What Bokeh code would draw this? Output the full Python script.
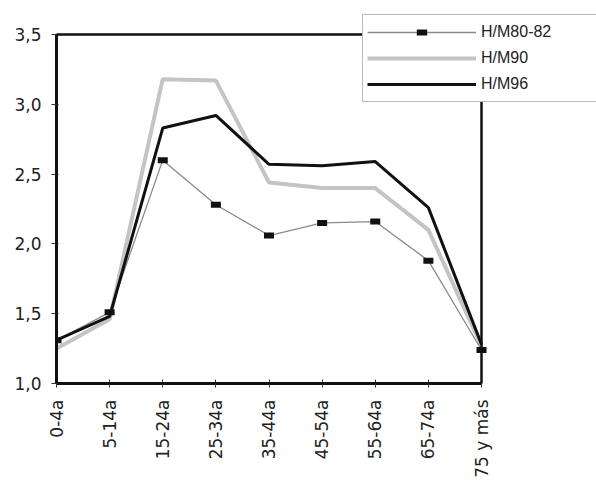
import math
from bokeh.plotting import figure
from bokeh.models import (Range1d, FixedTicker, CustomJSTickFormatter, Legend, LegendItem,
                          BoxAnnotation)
from bokeh.embed import file_html
from bokeh.resources import INLINE

categories = ["0-4a", "5-14a", "15-24a", "25-34a", "35-44a", "45-54a", "55-64a", "65-74a", "75 y más"]
hm80_82 = [1.31, 1.51, 2.60, 2.28, 2.06, 2.15, 2.16, 1.88, 1.24]
hm90 = [1.25, 1.46, 3.18, 3.17, 2.44, 2.40, 2.40, 2.10, 1.27]
hm96 = [1.31, 1.48, 2.83, 2.92, 2.57, 2.56, 2.59, 2.26, 1.28]
y_ticks = [1.0, 1.5, 2.0, 2.5, 3.0, 3.5]

xs = list(range(len(categories)))
x_last = len(categories) - 1
y_min, y_max = y_ticks[0], y_ticks[-1]

# The frame extends to the canvas' right and top edges so the legend may
# overlap beyond the drawn plot box (as in the reference).
W, H = 596, 486
left_b, bottom_b = 56, 103
axis_px_x = 425   # pixel length of the category axis
axis_px_y = 349   # pixel height of the value axis
frame_w = W - left_b
frame_h = H - bottom_b
x_end = x_last * frame_w / axis_px_x
y_end = y_min + (y_max - y_min) * frame_h / axis_px_y

p = figure(width=W, height=H, output_backend="svg", toolbar_location=None,
           x_range=Range1d(0, x_end), y_range=Range1d(y_min, y_end),
           min_border_left=left_b, min_border_right=0, min_border_top=0,
           min_border_bottom=bottom_b)
p.background_fill_color = "white"
p.border_fill_color = "white"
p.xgrid.visible = False
p.ygrid.visible = False
p.outline_line_color = None

# plot box (top and right borders; left/bottom are the axes)
p.add_layout(BoxAnnotation(left=0, right=x_last, bottom=y_min, top=y_max,
                           fill_alpha=0, line_color="#111111", line_alpha=1.0,
                           line_width=2.5))

r90 = p.line(xs, hm90, line_color="#c4c4c4", line_width=4)
r80 = p.line(xs, hm80_82, line_color="#8a8a8a", line_width=1.3)
r96 = p.line(xs, hm96, line_color="#111111", line_width=3)
r80m = p.scatter(xs, hm80_82, marker="dash", size=10, line_width=6, line_color="#111111",
                 line_cap="butt")

p.xaxis.ticker = FixedTicker(ticks=xs)
p.xaxis.formatter = CustomJSTickFormatter(args=dict(labels=categories),
                                          code="return labels[Math.round(tick)];")
p.xaxis.major_label_orientation = math.pi / 2
p.xaxis.bounds = (0, x_last)
p.yaxis.ticker = FixedTicker(ticks=y_ticks)
p.yaxis.formatter = CustomJSTickFormatter(code="return tick.toFixed(1).replace('.', ',');")
p.yaxis.bounds = (y_min, y_max)
p.xaxis.minor_tick_line_color = None
p.yaxis.minor_tick_line_color = None

for ax in (p.xaxis, p.yaxis):
    ax.axis_line_color = "#111111"
    ax.axis_line_width = 3
    ax.major_tick_line_color = "#333333"
    ax.major_tick_line_width = 1
    ax.major_label_text_font = "DejaVu Sans"
    ax.major_label_text_font_size = "17px"
    ax.major_label_text_color = "#222222"

p.xaxis.major_tick_in = 4
p.xaxis.major_tick_out = 4
p.xaxis.major_label_standoff = 12
p.yaxis.major_tick_in = 2
p.yaxis.major_tick_out = 5
p.yaxis.major_label_standoff = 10

legend = Legend(items=[
    LegendItem(label="H/M80-82", renderers=[r80, r80m]),
    LegendItem(label="H/M90", renderers=[r90]),
    LegendItem(label="H/M96", renderers=[r96]),
], location=(306, 281))
legend.border_line_color = "#777777"
legend.border_line_width = 1.2
legend.background_fill_color = "white"
legend.background_fill_alpha = 1
legend.padding = 4
legend.spacing = 0
legend.margin = 0
legend.glyph_width = 109
legend.glyph_height = 26
legend.label_height = 26
legend.label_standoff = 5
legend.label_text_font = "Liberation Sans"
legend.label_text_font_size = "16px"
legend.label_text_color = "#222222"
legend.label_width = 150
p.add_layout(legend, "center")

open("out.html", "w").write(file_html(p, INLINE))
